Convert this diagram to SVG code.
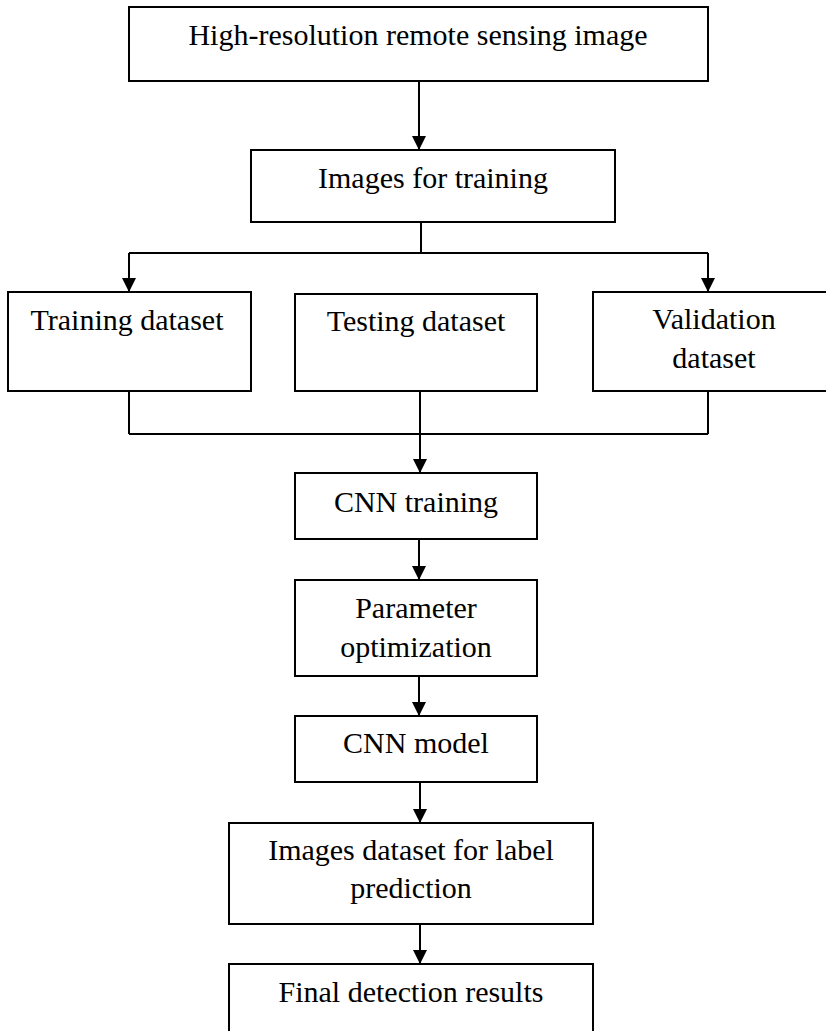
<svg xmlns="http://www.w3.org/2000/svg" width="826" height="1031" viewBox="0 0 826 1031">
  <style>
    .box { fill: #fff; stroke: #000; stroke-width: 2; }
    .lbl { font-family: "Liberation Serif", "Times New Roman", serif; font-size: 30px; fill: #000; text-anchor: middle; }
    .wire { fill: none; stroke: #000; stroke-width: 2; }
  </style>
  <defs>
    <marker id="arrow" markerUnits="userSpaceOnUse" markerWidth="14" markerHeight="14" refX="14" refY="7" orient="auto">
      <path d="M0,0 L14,7 L0,14 z" fill="#000"/>
    </marker>
  </defs>
  <rect width="826" height="1031" fill="#fff"/>

  <!-- connectors -->
  <g id="connectors">
    <line class="wire" x1="419" y1="81" x2="419" y2="150" marker-end="url(#arrow)"/>
    <line class="wire" x1="421" y1="222" x2="421" y2="253"/>
    <line class="wire" x1="129" y1="253" x2="708" y2="253"/>
    <line class="wire" x1="129" y1="253" x2="129" y2="292" marker-end="url(#arrow)"/>
    <line class="wire" x1="708" y1="253" x2="708" y2="292" marker-end="url(#arrow)"/>
    <line class="wire" x1="129" y1="391" x2="129" y2="434"/>
    <line class="wire" x1="708" y1="391" x2="708" y2="434"/>
    <line class="wire" x1="129" y1="434" x2="708" y2="434"/>
    <line class="wire" x1="420" y1="391" x2="420" y2="473" marker-end="url(#arrow)"/>
    <line class="wire" x1="419" y1="539" x2="419" y2="580" marker-end="url(#arrow)"/>
    <line class="wire" x1="419" y1="676" x2="419" y2="716" marker-end="url(#arrow)"/>
    <line class="wire" x1="420" y1="782" x2="420" y2="823" marker-end="url(#arrow)"/>
    <line class="wire" x1="420" y1="924" x2="420" y2="964" marker-end="url(#arrow)"/>
  </g>

  <!-- nodes -->
  <g id="source-image">
    <rect class="box" x="129" y="7" width="579" height="74"/>
    <text class="lbl" x="418" y="45">High-resolution remote sensing image</text>
  </g>
  <g id="training-images">
    <rect class="box" x="251" y="150" width="364" height="72"/>
    <text class="lbl" x="433" y="188">Images for training</text>
  </g>
  <g id="training-dataset">
    <rect class="box" x="8" y="292" width="243" height="99"/>
    <text class="lbl" x="127" y="330">Training dataset</text>
  </g>
  <g id="testing-dataset">
    <rect class="box" x="295" y="294" width="242" height="97"/>
    <text class="lbl" x="416" y="331">Testing dataset</text>
  </g>
  <g id="validation-dataset">
    <rect class="box" x="593" y="292" width="242" height="99"/>
    <text class="lbl" x="714" y="329">Validation</text>
    <text class="lbl" x="714" y="368">dataset</text>
  </g>
  <g id="cnn-training">
    <rect class="box" x="295" y="473" width="242" height="66"/>
    <text class="lbl" x="416" y="512">CNN training</text>
  </g>
  <g id="parameter-optimization">
    <rect class="box" x="295" y="580" width="242" height="96"/>
    <text class="lbl" x="416" y="618">Parameter</text>
    <text class="lbl" x="416" y="657">optimization</text>
  </g>
  <g id="cnn-model">
    <rect class="box" x="295" y="716" width="242" height="66"/>
    <text class="lbl" x="416" y="753">CNN model</text>
  </g>
  <g id="prediction-dataset">
    <rect class="box" x="229" y="823" width="364" height="101"/>
    <text class="lbl" x="411" y="860">Images dataset for label</text>
    <text class="lbl" x="411" y="898">prediction</text>
  </g>
  <g id="final-results">
    <rect class="box" x="229" y="964" width="364" height="80"/>
    <text class="lbl" x="411" y="1002">Final detection results</text>
  </g>
</svg>
